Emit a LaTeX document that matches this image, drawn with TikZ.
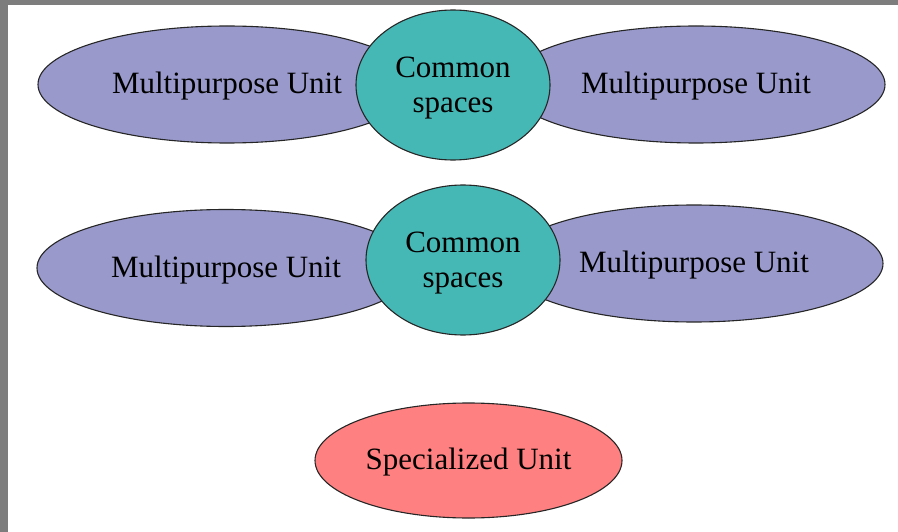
\documentclass[tikz,border=0pt]{standalone}
\usepackage{fontspec}
\setmainfont{Liberation Serif}
\usetikzlibrary{shapes.geometric}
\definecolor{unitpurple}{RGB}{153,153,204}
\definecolor{commonteal}{RGB}{69,184,181}
\definecolor{specpink}{RGB}{255,128,128}
\definecolor{framegray}{RGB}{125,125,125}
\newcommand{\lowertext}[2]{\raisebox{-#1}[\height][\depth]{#2}}
\begin{document}
\begin{tikzpicture}[x=1pt,y=-1pt,
  blob/.style={ellipse, draw=black!85, line width=1.1pt, inner sep=0pt,
    font=\fontsize{31}{35}\selectfont, align=center},
  multi/.style={blob, fill=unitpurple, minimum width=378pt, minimum height=117pt},
  common/.style={blob, fill=commonteal, minimum width=194pt, minimum height=150pt},
  special/.style={blob, fill=specpink, minimum width=307pt, minimum height=115pt}]
\useasboundingbox (0,0) rectangle (898,532);
\fill[white] (0,0) rectangle (898,532);
\fill[framegray] (0,0) rectangle (898,5);
\fill[framegray] (0,0) rectangle (8,532);
% row 1
\node[multi] (m1l) at (227,84.5) {\lowertext{2pt}{Multipurpose Unit}};
\node[multi] (m1r) at (696,84.5) {\lowertext{2pt}{Multipurpose Unit}};
\node[common] (c1) at (453,85) {\lowertext{3pt}{\parbox{120pt}{\centering Common\\spaces}}};
% row 2
\node[multi] (m2l) at (226,268) {\lowertext{2pt}{Multipurpose Unit}};
\node[multi] (m2r) at (694,263.5) {\lowertext{2pt}{Multipurpose Unit}};
\node[common] (c2) at (463,260) {\lowertext{3pt}{\parbox{120pt}{\centering Common\\spaces}}};
% specialized
\node[special] (sp) at (468.5,460.5) {\lowertext{2pt}{Specialized Unit}};
\end{tikzpicture}
\end{document}
